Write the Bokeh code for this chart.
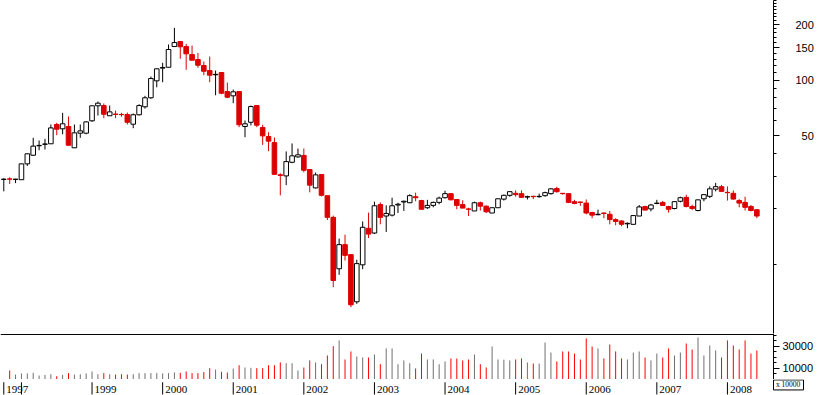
import pandas as pd
from bokeh.plotting import figure
from bokeh.models import (ColumnDataSource, Range1d, FixedTicker, BasicTickFormatter, Span)
from bokeh.layouts import column
from bokeh.embed import file_html
from bokeh.resources import INLINE

# ---------------- data (monthly, Oct 1997 .. Jun 2008) ----------------
months = pd.date_range("1997-10-01", periods=129, freq="MS")

opens = [28.9, 29.1, 28.9, 28.8, 35.1, 39.1, 44.0, 44.8, 45.1, 57.4,
         54.4, 56.0, 42.9, 51.5, 51.5, 60.1, 72.5, 72.7, 64.0, 65.4,
         65.1, 65.0, 57.6, 64.8, 71.6, 80.1, 99.0, 116.0, 117.3, 151.9,
         161.7, 151.9, 137.5, 129.2, 119.9, 112.6, 106.8, 109.8, 86.6, 82.1,
         86.6, 56.0, 59.0, 72.7, 55.3, 49.4, 45.8, 30.6, 30.2, 35.8,
         38.3, 39.0, 32.7, 26.0, 30.7, 23.6, 18.0, 9.47, 12.8, 11.3,
         6.27, 9.95, 15.7, 14.8, 21.1, 18.3, 18.5, 21.0, 21.8, 21.6,
         23.3, 22.2, 20.3, 20.9, 21.7, 23.0, 24.2, 22.5, 21.1, 20.0,
         19.5, 21.6, 20.7, 19.0, 20.3, 22.6, 23.7, 24.3, 24.2, 23.2,
         23.4, 23.3, 23.6, 24.2, 25.8, 24.3, 24.2, 21.9, 21.8, 21.5,
         19.1, 18.6, 19.0, 18.7, 17.5, 17.2, 16.6, 16.5, 18.3, 20.6,
         20.0, 21.4, 21.7, 20.6, 20.1, 22.0, 23.1, 20.6, 19.6, 22.7,
         23.4, 25.6, 26.4, 24.6, 24.3, 22.2, 21.7, 20.6, 19.8]

highs = [29.3, 29.7, 29.1, 35.2, 39.9, 48.6, 47.0, 48.0, 57.4, 58.6,
         66.4, 63.4, 57.4, 57.4, 59.6, 72.7, 76.5, 74.6, 72.7, 68.3,
         66.4, 66.6, 65.8, 73.9, 82.1, 104.5, 115.5, 124.0, 155.8, 191.9,
         161.7, 157.2, 153.9, 140.4, 126.0, 134.1, 112.6, 109.8, 96.9, 88.8,
         86.6, 60.3, 72.7, 72.7, 57.2, 52.1, 48.8, 31.2, 41.0, 45.3,
         42.5, 42.5, 32.7, 31.5, 30.7, 23.6, 18.4, 13.8, 14.5, 11.3,
         10.6, 17.1, 19.1, 21.9, 21.7, 20.9, 23.0, 21.6, 22.2, 24.0,
         24.5, 22.4, 22.4, 21.9, 23.3, 25.1, 24.3, 22.6, 22.3, 20.3,
         21.9, 21.9, 20.9, 20.3, 22.7, 23.9, 24.9, 25.2, 25.2, 23.6,
         23.6, 24.2, 24.8, 25.9, 26.4, 24.3, 24.3, 22.4, 21.9, 22.5,
         19.3, 19.8, 19.1, 19.5, 17.8, 17.4, 16.9, 18.4, 21.0, 20.8,
         21.3, 22.4, 22.1, 20.8, 22.0, 23.3, 23.9, 21.1, 22.4, 24.0,
         26.5, 27.7, 27.0, 26.5, 25.2, 22.6, 23.3, 21.0, 19.8]

lows = [24.9, 27.3, 27.6, 28.7, 34.2, 38.8, 41.6, 42.0, 45.0, 50.2,
        50.8, 44.2, 42.8, 48.6, 50.8, 59.3, 64.2, 62.1, 64.0, 62.1,
        63.2, 57.4, 54.8, 64.2, 70.0, 79.1, 91.4, 97.3, 117.3, 151.9,
        130.3, 113.6, 128.1, 116.5, 106.2, 97.3, 82.7, 83.8, 79.7, 74.9,
        55.5, 49.0, 56.7, 55.5, 44.5, 41.1, 30.8, 23.7, 26.9, 35.4,
        37.9, 31.6, 24.6, 25.8, 23.4, 17.4, 7.52, 8.78, 10.5, 5.86,
        6.11, 9.42, 13.9, 14.6, 16.5, 15.0, 18.2, 19.0, 19.5, 21.5,
        22.0, 19.9, 20.0, 20.4, 21.2, 22.8, 22.3, 19.9, 20.2, 18.3,
        19.5, 19.6, 19.0, 19.0, 20.3, 22.2, 23.3, 23.3, 23.0, 22.5,
        22.6, 23.0, 23.3, 23.9, 24.5, 23.9, 21.5, 21.2, 20.8, 18.7,
        17.8, 18.5, 17.8, 16.5, 16.3, 16.1, 15.7, 16.5, 18.3, 19.7,
        19.4, 21.2, 20.9, 19.1, 19.9, 21.7, 20.4, 19.7, 19.4, 22.0,
        22.9, 24.9, 24.8, 22.2, 22.5, 20.4, 19.6, 19.4, 17.8]

closes = [29.0, 29.0, 29.0, 35.1, 39.8, 43.8, 44.2, 45.0, 55.0, 54.1,
          57.9, 44.3, 51.7, 53.0, 59.3, 72.5, 74.9, 65.2, 67.2, 65.1,
          64.9, 59.0, 64.8, 72.7, 80.1, 101.9, 115.0, 117.0, 146.4, 159.7,
          151.4, 138.7, 128.1, 120.3, 111.6, 106.2, 107.4, 84.8, 80.7, 86.3,
          57.2, 57.9, 71.8, 56.9, 49.8, 46.6, 30.8, 30.4, 36.1, 38.8,
          39.3, 32.4, 26.9, 30.6, 23.7, 18.0, 8.18, 12.8, 11.2, 6.04,
          10.1, 15.9, 14.6, 20.8, 18.0, 18.9, 20.8, 21.2, 22.0, 23.6,
          23.0, 19.9, 20.9, 21.7, 22.9, 24.2, 22.4, 20.9, 20.2, 19.9,
          21.6, 20.7, 19.3, 20.3, 22.7, 23.7, 24.8, 23.9, 23.1, 23.3,
          23.3, 23.4, 24.5, 25.7, 24.8, 24.2, 21.7, 21.4, 21.7, 19.0,
          18.5, 18.7, 18.9, 17.5, 17.1, 16.5, 16.7, 18.4, 20.5, 19.7,
          21.0, 21.5, 20.9, 19.9, 21.9, 23.0, 20.6, 20.1, 22.4, 23.9,
          25.7, 26.4, 24.9, 24.5, 22.6, 21.5, 20.4, 19.6, 18.3]

volumes = [0, 8200, 4500, 5500, 5500, 6100, 3600, 4200, 4800, 3000,
           4200, 5800, 4500, 4800, 5500, 7300, 4800, 5800, 4800, 4500,
           4800, 4500, 4800, 5800, 5800, 5800, 5800, 5500, 5800, 6400,
           6100, 7300, 5800, 5800, 6700, 10300, 9100, 7000, 6400, 10000,
           13000, 10900, 10600, 10300, 10300, 13000, 13000, 15500, 14800, 14800,
           8200, 10900, 17300, 15500, 13900, 21800, 30300, 35500, 18200, 25500,
           20900, 20000, 20000, 22700, 13900, 28200, 28200, 13900, 17300, 14800,
           10000, 23600, 18200, 18200, 13900, 16400, 19100, 19100, 17300, 18200,
           22700, 13900, 10900, 30000, 18200, 18000, 17300, 18200, 19100, 15500,
           14500, 14500, 33600, 24500, 16400, 25500, 25500, 23600, 18200, 37300,
           30000, 28200, 19100, 31800, 25500, 19100, 18200, 24500, 25500, 20000,
           17300, 23600, 20000, 28200, 21800, 24500, 32700, 27300, 38200, 21800,
           30900, 26400, 20000, 35500, 30900, 27300, 35500, 23600, 26400]

price_major_ticks = [50, 100, 150, 200]
price_minor_ticks = [v for v in range(10, 280, 10) if v not in price_major_ticks]
vol_major_ticks = [10000, 30000]
vol_minor_ticks = [5000, 15000, 20000, 25000, 35000, 40000]
vol_unit_text = "x 10000"

# ---------------- derived ----------------
xs = list(range(len(months)))
down = [c < o for o, c in zip(opens, closes)]
CANDLE_RED = "#DD0000"
VOL_RED = "#FF0000"
VOL_GREY = "#707070"
FONT = "Liberation Sans"

src = ColumnDataSource(dict(
    x=xs, high=highs, low=lows,
    top=[max(o, c) for o, c in zip(opens, closes)],
    bottom=[min(o, c) for o, c in zip(opens, closes)],
    fill=[CANDLE_RED if d else "white" for d in down],
    edge=[CANDLE_RED if d else "black" for d in down],
))
vsrc = ColumnDataSource(dict(
    x=xs, vol=volumes,
    col=[VOL_RED if d else VOL_GREY for d in down],
))

tick_idx = [0] + [i for i, m in enumerate(months) if m.month == 1]
label_idx, label_txt = [], []
for i in tick_idx:
    if label_idx and i - label_idx[-1] < 10:
        continue
    label_idx.append(i)
    label_txt.append(str(months[i].year))

# ---------------- layout constants ----------------
FW = 773          # plot frame width
RB = 44           # right border (axis area)
TOTAL_W = FW + RB
X0, X1 = -0.56, 130.83
px_per_unit = FW / (X1 - X0)

x_range = Range1d(X0, X1)


def base_style(fig):
    fig.grid.visible = False
    fig.outline_line_color = None
    fig.background_fill_color = "white"
    fig.border_fill_color = "white"


def style_right_axis(ax, standoff):
    ax.axis_line_color = "black"
    ax.major_tick_line_color = "black"
    ax.minor_tick_line_color = "black"
    ax.major_tick_in = 0
    ax.major_tick_out = 6
    ax.minor_tick_in = 0
    ax.minor_tick_out = 3
    ax.major_label_standoff = standoff
    ax.major_label_text_font = FONT
    ax.major_label_text_font_size = "11px"
    ax.major_label_text_color = "black"
    ax.formatter = BasicTickFormatter(use_scientific=False)


# ---------------- price pane ----------------
p = figure(y_axis_type="log", x_range=x_range, y_range=Range1d(4.22, 270),
           frame_width=FW, frame_height=333, title=None,
           min_border_left=0, min_border_right=RB, min_border_top=0, min_border_bottom=0,
           toolbar_location=None, output_backend="svg",
           x_axis_location=None, y_axis_location="right")
base_style(p)

p.segment(x0="x", y0="low", x1="x", y1="high", line_color="edge", line_width=1, source=src)
p.vbar(x="x", width=0.78, top="top", bottom="bottom", fill_color="fill",
       line_color="edge", line_width=1, source=src)

ya = p.yaxis[0]
ya.ticker = FixedTicker(ticks=price_major_ticks, minor_ticks=price_minor_ticks)
style_right_axis(ya, 16)
ya.major_label_overrides = {50: "\u200750"}

# ---------------- volume pane ----------------
v = figure(x_range=x_range, y_range=Range1d(0, 41800),
           frame_width=FW, frame_height=46, title=None,
           min_border_left=0, min_border_right=RB, min_border_top=0, min_border_bottom=0,
           toolbar_location=None, output_backend="svg",
           x_axis_location=None, y_axis_location="right")
base_style(v)

v.segment(x0="x", y0=0, x1="x", y1="vol", line_color="col", line_width=1, source=vsrc)
v.add_layout(Span(location=40900, dimension="width", line_color="black", line_width=1))

vy = v.yaxis[0]
vy.ticker = FixedTicker(ticks=vol_major_ticks, minor_ticks=vol_minor_ticks)
style_right_axis(vy, 3)

# ---------------- time axis strip (year ticks + labels, volume unit box) ----------------
s = figure(x_range=Range1d(X0, X0 + TOTAL_W / px_per_unit), y_range=Range1d(0, 1),
           frame_width=TOTAL_W, frame_height=16, title=None,
           min_border_left=0, min_border_right=0, min_border_top=0, min_border_bottom=0,
           toolbar_location=None, output_backend="svg",
           x_axis_location=None, y_axis_location=None)
base_style(s)

tsrc = ColumnDataSource(dict(x=tick_idx))
s.segment(x0="x", y0=0.06, x1="x", y1=0.83, line_color="black", line_width=1, source=tsrc)

ysrc = ColumnDataSource(dict(x=label_idx, text=label_txt))
s.text(x="x", y=0.4, text="text", source=ysrc, x_offset=2.5,
       text_baseline="middle", text_align="left",
       text_font="Liberation Sans", text_font_size="11px", text_color="black")

box_w_px, box_h_px = 30, 10
box_x = X1 + (box_w_px / 2) / px_per_unit
s.rect(x=[box_x], y=[0.66], width=box_w_px, height=box_h_px,
       width_units="screen", height_units="screen",
       fill_color="white", line_color="black", line_width=1)
s.text(x=[X1], y=[0.66], text=[vol_unit_text], x_offset=2.4,
       text_baseline="middle", text_align="left",
       text_font="Liberation Sans", text_font_size="7.5px", text_color="black")

layout = column(p, v, s)
open("out.html", "w").write(file_html(layout, INLINE))
